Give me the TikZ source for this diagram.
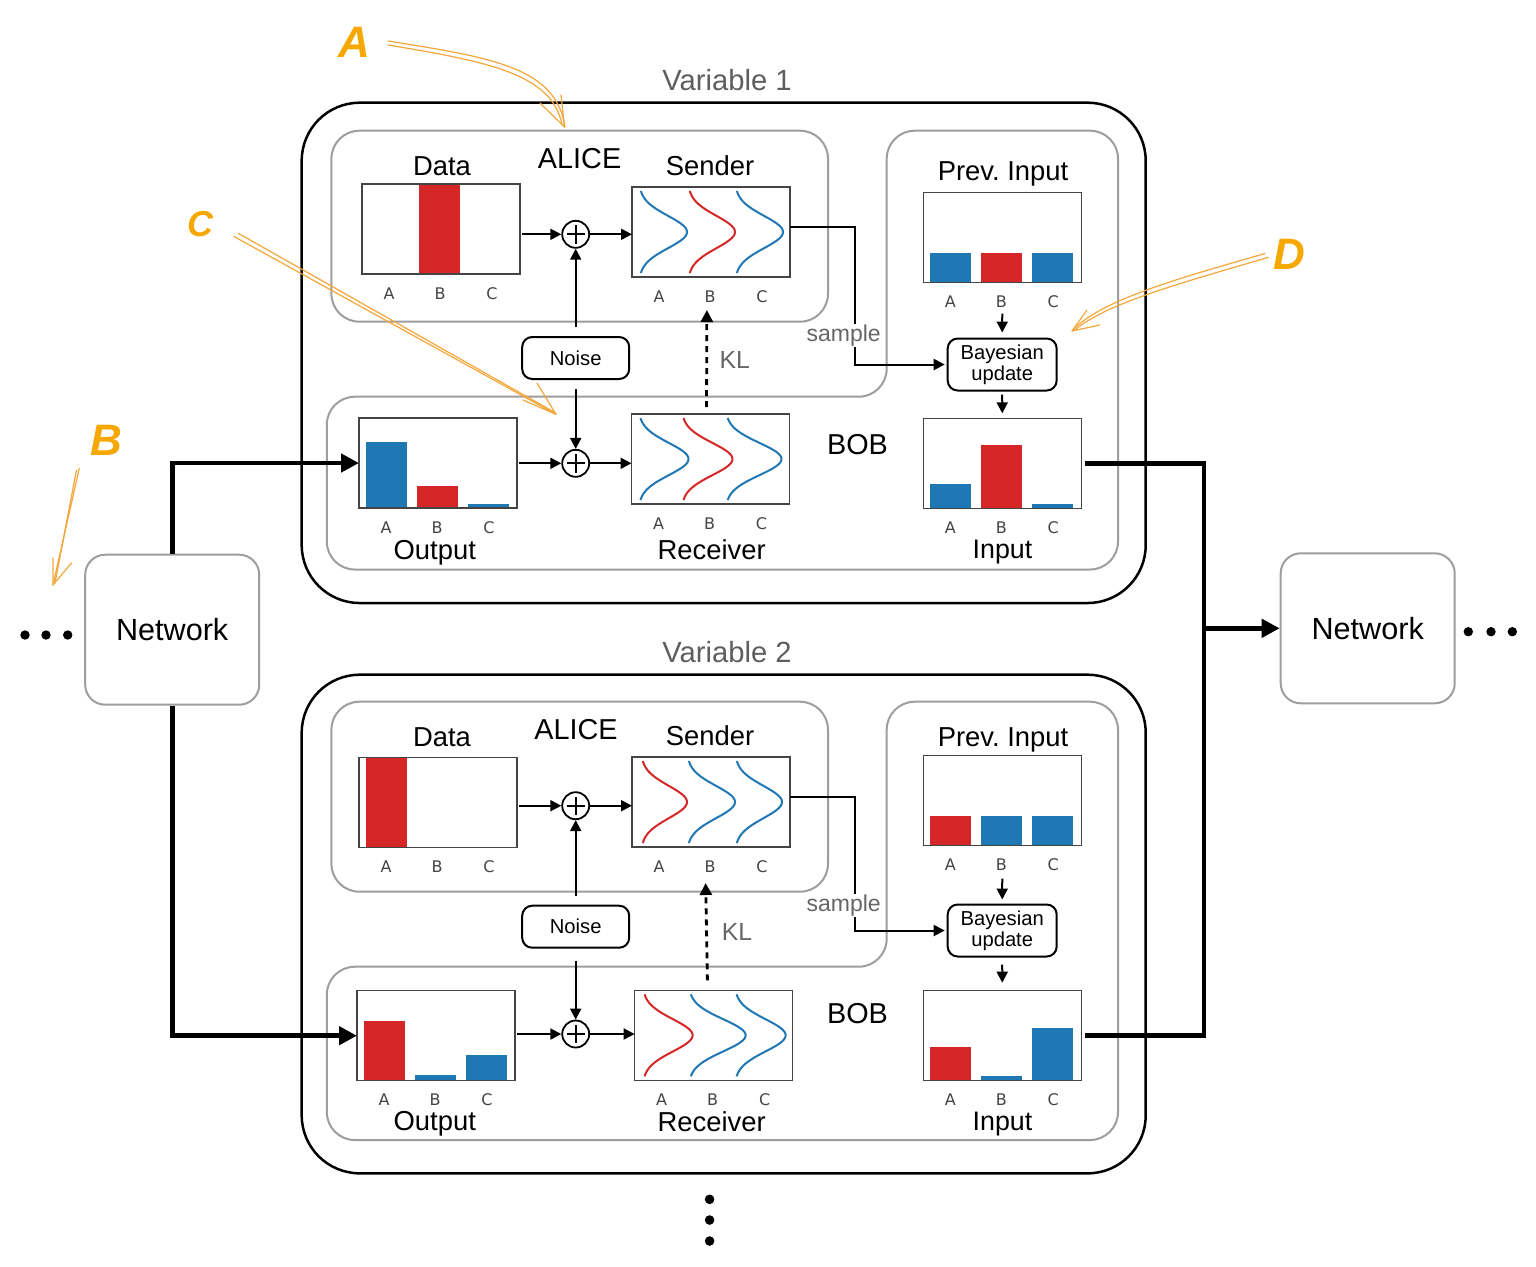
\documentclass[tikz,border=0pt]{standalone}
\usepackage{fontspec}
\setmainfont{Liberation Sans}
\newfontfamily\abcfont{DejaVu Sans}
\usetikzlibrary{arrows.meta,calc}
\definecolor{cblue}{HTML}{1F77B4}
\definecolor{cred}{HTML}{D62728}
\definecolor{boxgray}{HTML}{9E9E9E}
\definecolor{vargray}{HTML}{5E5E5E}
\definecolor{lblgray}{HTML}{666666}
\definecolor{frgray}{HTML}{444444}
\definecolor{annletter}{HTML}{F7A800}
\definecolor{annline}{HTML}{F3A63A}
\newcommand{\pbar}[4]{\fill[#4] ($(#1.south west)+(#2,0)$) rectangle ++(41,-#3);}
\newcommand{\bell}[4]{\draw[curve,#4,shift={(#1.west)}] plot[domain=-41:41,samples=60] ({#2+#3*exp(-((\x)^2)/520)},{\x});}
\newcommand{\abcl}[1]{\foreach \lab/\dx in {A/-52,B/-1,C/51}{\node[abc] (#1-\lab) at ($(#1.south)+(\dx,25)$) {\lab};}}
\begin{document}
\begin{tikzpicture}[x=0.5pt,y=-0.5pt,
  outerbox/.style={draw=black,line width=1.25pt,rounded corners=29pt},
  graybox/.style={draw=boxgray,line width=1pt,rounded corners=14pt},
  pframe/.style={minimum width=79pt,minimum height=45pt,inner sep=0pt,outer sep=0pt,anchor=north west},
  frameline/.style={draw=frgray,line width=0.7pt},
  curve/.style={line width=1pt},
  abc/.style={font=\abcfont\fontsize{8}{9}\selectfont,text=frgray,anchor=base,inner sep=0pt},
  ttl/.style={font=\fontsize{13.7}{16}\selectfont,anchor=base,inner sep=0pt},
  inttl/.style={font=\fontsize{13.4}{16}\selectfont,anchor=base,inner sep=0pt},
  big/.style={font=\fontsize{14.4}{17}\selectfont,anchor=base,inner sep=0pt},
  vartxt/.style={font=\fontsize{14.6}{17}\selectfont,text=vargray,anchor=base,inner sep=0pt},
  kltxt/.style={font=\fontsize{12.4}{14}\selectfont,text=lblgray,anchor=base,inner sep=0pt},
  smptxt/.style={font=\fontsize{11.5}{13}\selectfont,text=lblgray,anchor=base,fill=white,inner xsep=1pt,inner ysep=0.3pt},
  smallbox/.style={draw=black,line width=1pt,rounded corners=5pt,minimum width=53.5pt,inner sep=0pt},
  netbox/.style={draw=boxgray,line width=1pt,rounded corners=10pt,minimum width=87pt,minimum height=75pt,inner sep=0pt,font=\fontsize{15.3}{18}\selectfont},
  plusnode/.style={circle,draw=black,line width=0.9pt,minimum size=13.5pt,inner sep=0pt,
    path picture={\draw[line width=0.9pt] ([xshift=-4.6pt]path picture bounding box.center) -- ([xshift=4.6pt]path picture bounding box.center)
      ([yshift=-4.6pt]path picture bounding box.center) -- ([yshift=4.6pt]path picture bounding box.center);}},
  arr/.style={-{Triangle[length=5.5pt,width=5.5pt]},line width=1pt},
  thickarr/.style={-{Triangle[length=9pt,width=9pt]},line width=2.3pt},
  thickline/.style={line width=2.3pt},
  klarr/.style={-{Triangle[length=6pt,width=6pt]},line width=1.4pt,dash pattern=on 3pt off 2.5pt},
  ann/.style={draw=annline,line width=0.6pt,line cap=round,line join=round},
  annlet/.style={text=annletter,font=\fontsize{22}{24}\selectfont\bfseries\itshape,inner sep=0pt}
]
\useasboundingbox (0,0) rectangle (1536,1266);
\fill[white] (0,0) rectangle (1536,1266);

% ---------- container boxes ----------
\draw[outerbox] (301.7,102.7) rectangle (1145.7,603);
\draw[outerbox] (301.7,674.7) rectangle (1145.7,1173.3);
\draw[graybox] (331.4,130.7) rectangle (828,321.7);
\draw[graybox] (600,569.5) -- (326.8,569.5) -- (326.8,396.7) -- (886.7,396.7) -- (886.7,130.7) -- (1118,130.7) -- (1118,569.5) -- cycle;
\draw[graybox] (331.4,701.7) rectangle (828,891.7);
\draw[graybox] (600,1140) -- (326.8,1140) -- (326.8,966.7) -- (886.7,966.7) -- (886.7,701.7) -- (1118,701.7) -- (1118,1140) -- cycle;

% ---------- plot frames (positions) ----------
\node[pframe] (d1) at (362,184) {};
\node[pframe] (s1) at (632,187) {};
\node[pframe] (o1) at (359,418) {};
\node[pframe] (r1) at (631.5,414) {};
\node[pframe] (pi1) at (923.3,192.7) {};
\node[pframe] (in1) at (923.3,418.5) {};
\node[pframe] (d2) at (359,757.7) {};
\node[pframe] (s2) at (632,757) {};
\node[pframe] (o2) at (357,990.7) {};
\node[pframe] (r2) at (634.6,990.3) {};
\node[pframe] (pi2) at (923.3,755.7) {};
\node[pframe] (in2) at (923.3,990.7) {};

% ---------- bars ----------
\pbar{d1}{57}{90}{cred}
\pbar{o1}{7}{66}{cblue}\pbar{o1}{58}{22}{cred}\pbar{o1}{109}{4}{cblue}
\pbar{pi1}{7}{30}{cblue}\pbar{pi1}{58}{30}{cred}\pbar{pi1}{109}{30}{cblue}
\pbar{in1}{7}{24.5}{cblue}\pbar{in1}{58}{64}{cred}\pbar{in1}{109}{4.5}{cblue}
\pbar{d2}{7}{90}{cred}
\pbar{o2}{7}{60}{cred}\pbar{o2}{58}{5.5}{cblue}\pbar{o2}{109}{25.5}{cblue}
\pbar{pi2}{7}{30}{cred}\pbar{pi2}{58}{30}{cblue}\pbar{pi2}{109}{30}{cblue}
\pbar{in2}{7}{34}{cred}\pbar{in2}{58}{5}{cblue}\pbar{in2}{109}{53}{cblue}

% ---------- bell curves ----------
\bell{s1}{7}{48}{cblue}\bell{s1}{56}{47}{cred}\bell{s1}{103}{48}{cblue}
\bell{r1}{7}{50}{cblue}\bell{r1}{50}{51}{cred}\bell{r1}{94}{56}{cblue}
\bell{s2}{9}{46}{cred}\bell{s2}{55}{48}{cblue}\bell{s2}{103}{47}{cblue}
\bell{r2}{8}{50}{cred}\bell{r2}{54}{57}{cblue}\bell{r2}{100}{51}{cblue}

\foreach \f in {d1,s1,o1,r1,pi1,in1,d2,s2,o2,r2,pi2,in2}{\draw[frameline] (\f.south west) rectangle (\f.north east);}
\foreach \f in {d1,s1,o1,r1,pi1,in1,d2,s2,o2,r2,pi2,in2}{\abcl{\f}}

% ---------- titles ----------
\node[vartxt] (var1) at (727,90.7) {Variable 1};
\node[vartxt] (var2) at (727,662) {Variable 2};
\node[ttl] (tdata1) at (442,175.5) {Data};
\node[big] (alice1) at (579.6,168.3) {ALICE};
\node[ttl] (tsend1) at (710,175) {Sender};
\node[ttl] (tprev1) at (1003,180) {Prev.\ Input};
\node[big] (bob1) at (857.5,454) {BOB};
\node[ttl] (tout1) at (434.8,559.3) {Output};
\node[ttl] (trec1) at (711.6,559.3) {Receiver};
\node[inttl] (tin1) at (1002.5,558.5) {Input};
\node[ttl] (tdata2) at (442,746) {Data};
\node[big] (alice2) at (576,739) {ALICE};
\node[ttl] (tsend2) at (710,745) {Sender};
\node[ttl] (tprev2) at (1003,746.7) {Prev.\ Input};
\node[big] (bob2) at (857.5,1023) {BOB};
\node[ttl] (tout2) at (434.8,1130) {Output};
\node[ttl] (trec2) at (711.6,1131) {Receiver};
\node[inttl] (tin2) at (1002.5,1130) {Input};

% ---------- small nodes ----------
\node[plusnode] (p1) at (575.7,234.3) {};
\node[plusnode] (p2) at (575.7,463.3) {};
\node[plusnode] (p3) at (575.7,805.7) {};
\node[plusnode] (p4) at (575.7,1034) {};
\node[smallbox,minimum height=21pt,font=\fontsize{10.1}{12}\selectfont] (n1) at (575.7,358) {Noise};
\node[smallbox,minimum height=21pt,font=\fontsize{10.1}{12}\selectfont] (n2) at (575.7,926.7) {Noise};
\node[smallbox,minimum width=54.5pt,minimum height=26pt,align=center,font=\fontsize{10.1}{8.8}\selectfont] (bu1) at (1002.2,364.5) {Bayesian\\update};
\node[smallbox,minimum width=54.5pt,minimum height=26pt,align=center,font=\fontsize{10.1}{8.8}\selectfont] (bu2) at (1002.2,930.5) {Bayesian\\update};
\node[netbox] (netL) at (172.2,629.7) {Network};
\node[netbox] (netR) at (1367.7,628.3) {Network};

% ---------- connectors, variable 1 ----------
\draw[arr,shorten <=1pt] (d1.east |- p1) -- (p1.west);
\draw[arr] (p1.east) -- (s1.west |- p1);
\draw[arr,shorten <=4.5pt] (n1.north) -- (p1.south);
\draw[arr,shorten <=4.5pt] (n1.south) -- (p2.north);
\draw[arr,shorten <=1pt] (o1.east |- p2) -- (p2.west);
\draw[arr] (p2.east) -- (r1.west |- p2);
\draw[klarr,shorten <=3.5pt,shorten >=16.5pt] ([xshift=-2pt]r1.north) -- ([xshift=-2pt]s1.south);
\node[kltxt] (kl1) at (734.8,368.3) {KL};
\coordinate (k1) at (854.7,226.7);
\draw[arr,shorten >=1pt] (s1.east |- k1) -- (k1) |- (bu1.west);
\node[smptxt] (smp1) at (843.7,341.7) {sample};
\draw[arr,shorten <=15.5pt,shorten >=2.5pt] (pi1.south) -- (bu1.north);
\draw[arr,shorten <=1.6pt,shorten >=2.6pt] (bu1.south) -- (in1.north);

% ---------- connectors, variable 2 ----------
\draw[arr,shorten <=1pt] (d2.east |- p3) -- (p3.west);
\draw[arr] (p3.east) -- (s2.west |- p3);
\draw[arr,shorten <=4.5pt] (n2.north) -- (p3.south);
\draw[arr,shorten <=6pt] (n2.south) -- (p4.north);
\draw[arr,shorten <=1pt] (o2.east |- p4) -- (p4.west);
\draw[arr] (p4.east) -- (r2.west |- p4);
\draw[klarr,shorten <=5pt,shorten >=18pt] ([xshift=-3pt]r2.north) -- ([xshift=-3pt]s2.south);
\node[kltxt] (kl2) at (737,940) {KL};
\coordinate (k2) at (854.7,797.3);
\draw[arr,shorten >=1pt] (s2.east |- k2) -- (k2) |- (bu2.west);
\node[smptxt] (smp2) at (843.7,911.7) {sample};
\draw[arr,shorten <=16.5pt,shorten >=2pt] (pi2.south) -- (bu2.north);
\draw[arr,shorten <=3.5pt,shorten >=4pt] (bu2.south) -- (in2.north);

% ---------- thick network connectors ----------
\draw[thickarr] (netL.north) |- (o1.west);
\draw[thickarr] (netL.south) |- (o2.west);
\coordinate (jr) at (1204,628.3);
\draw[thickline] ([xshift=2pt]in1.east) -| (jr) |- ([xshift=2pt]in2.east);
\draw[thickarr] (jr) -- (netR.west);

% ---------- ellipses ----------
\foreach \xx in {25,46,67.7}{\fill (\xx,635) circle[radius=2.35pt];}
\foreach \xx in {1468.3,1491,1512.3}{\fill (\xx,631.7) circle[radius=2.35pt];}
\foreach \yy in {1199.3,1220,1241}{\fill (709.6,\yy) circle[radius=2.4pt];}

% ---------- orange annotations ----------
\node[annlet] (annA) at (354,42) {A};
\node[annlet] (annB) at (106,440) {B};
\node[annlet,font=\fontsize{18}{20}\selectfont\bfseries\itshape] (annC) at (200,224) {C};
\node[annlet] (annD) at (1289,254) {D};
\draw[ann] (388,41) .. controls (495,58) and (556,68) .. (565,127);
\draw[ann] (388,45) .. controls (490,62) and (551,74) .. (562,124);
\draw[ann] (540,103) -- (564.5,127) -- (561,95);
\draw[ann] (79.3,468.3) -- (53,585);
\draw[ann] (76.5,470) -- (55,583);
\draw[ann] (53,558) -- (53,585) -- (71.7,562.7);
\draw[ann] (234,236.5) -- (556,414.3);
\draw[ann] (238.3,233.3) -- (554,412);
\draw[ann] (523,400) -- (556,414.3) -- (537,383);
\draw[ann] (1265,253.5) .. controls (1180,278) and (1100,300) .. (1072,331);
\draw[ann] (1268.3,257.3) .. controls (1185,282) and (1106,303) .. (1075,330);
\draw[ann] (1087,310) -- (1072,331) -- (1100,325);
\end{tikzpicture}
\end{document}
